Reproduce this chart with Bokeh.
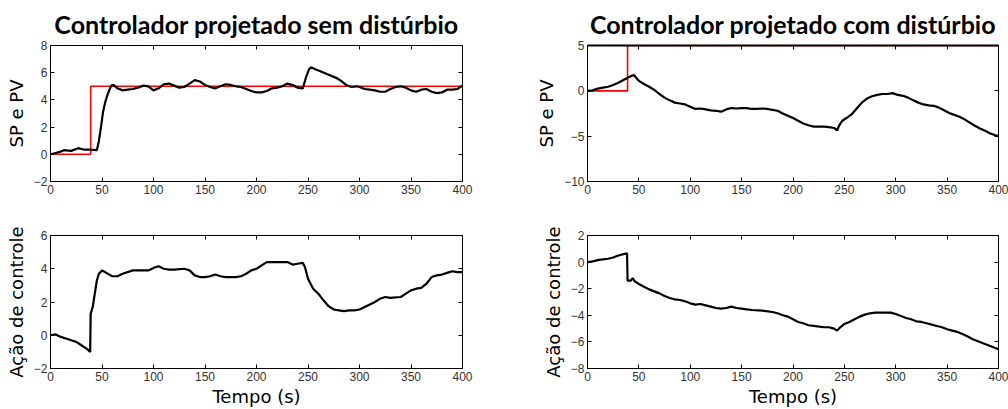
from bokeh.plotting import figure
from bokeh.layouts import column, row
from bokeh.models import Range1d, LinearAxis, FixedTicker
from bokeh.embed import file_html
from bokeh.resources import INLINE

# ---- data ---------------------------------------------------------------
# Set-point step (both experiments)
sp_t = [0, 39, 39, 400]
sp_v = [0, 0, 5, 5]

# Process variable, no disturbance
pv1_t = [0, 5, 10, 13, 20, 27, 32, 37, 45, 47, 49, 51, 53, 55, 57, 59, 61, 65, 70,
         75, 80, 85, 90, 95, 100, 105, 110, 115, 120, 125, 130, 135, 140, 145, 150,
         155, 160, 165, 170, 175, 180, 185, 190, 195, 200, 205, 210, 215, 220, 225,
         230, 235, 240, 245, 248, 251, 253, 257, 262, 270, 278, 283, 287, 292, 297,
         300, 305, 310, 315, 320, 325, 330, 335, 340, 345, 350, 355, 360, 365, 370,
         375, 380, 385, 390, 395, 400]
pv1_v = [0.0, 0.1, 0.2, 0.3, 0.25, 0.45, 0.35, 0.35, 0.3, 1.0, 2.0, 3.1, 3.8, 4.3, 4.7,
         5.05, 5.1, 4.85, 4.7, 4.75, 4.8, 4.9, 5.05, 5.0, 4.7, 4.85, 5.15, 5.2, 5.05,
         4.9, 4.95, 5.2, 5.45, 5.35, 5.1, 4.95, 4.85, 5.0, 5.15, 5.1, 5.0, 4.95, 4.8,
         4.65, 4.55, 4.55, 4.65, 4.85, 4.9, 5.0, 5.2, 5.1, 4.9, 4.85, 5.65, 6.25, 6.4,
         6.25, 6.1, 5.85, 5.6, 5.35, 5.1, 4.95, 5.0, 4.95, 4.8, 4.75, 4.7, 4.6, 4.6,
         4.8, 4.95, 5.0, 4.9, 4.7, 4.6, 4.75, 4.8, 4.6, 4.5, 4.55, 4.75, 4.75, 4.8, 5.05]

# Control action, no disturbance
u1_t = [0, 5, 10, 15, 20, 25, 30, 35, 38.5, 39, 41, 43, 45, 47, 50, 53, 57, 60, 65, 70,
        80, 90, 95, 100, 105, 110, 115, 120, 130, 135, 140, 145, 150, 155, 160, 165,
        170, 180, 185, 190, 195, 200, 205, 210, 220, 230, 235, 240, 245, 247, 250, 255,
        260, 265, 270, 275, 280, 285, 290, 295, 300, 305, 310, 315, 320, 325, 330, 340,
        345, 350, 355, 360, 365, 370, 375, 380, 385, 390, 395, 400]
u1_v = [0.0, 0.05, -0.1, -0.2, -0.3, -0.4, -0.6, -0.8, -1.0, 1.3, 1.7, 2.5, 3.3, 3.7,
        3.9, 3.8, 3.65, 3.55, 3.55, 3.7, 3.9, 3.9, 3.9, 4.05, 4.15, 4.0, 3.95, 3.95, 4.0,
        3.9, 3.6, 3.5, 3.5, 3.55, 3.65, 3.55, 3.5, 3.5, 3.55, 3.7, 3.9, 4.0, 4.2, 4.4,
        4.4, 4.4, 4.25, 4.3, 4.35, 4.1, 3.4, 2.8, 2.5, 2.1, 1.75, 1.55, 1.5, 1.45, 1.5,
        1.5, 1.55, 1.7, 1.85, 2.0, 2.2, 2.3, 2.25, 2.3, 2.5, 2.7, 2.8, 2.85, 3.1, 3.5,
        3.6, 3.65, 3.75, 3.85, 3.8, 3.8]

# Process variable, with disturbance
pv2_t = [0, 5, 10, 15, 20, 25, 30, 35, 40, 43, 45, 47, 50, 55, 60, 65, 70, 75, 80, 85,
         90, 95, 100, 105, 110, 115, 120, 125, 130, 135, 140, 145, 150, 155, 160, 165,
         170, 175, 180, 185, 190, 195, 200, 205, 210, 215, 220, 225, 230, 235, 240, 243,
         245, 248, 252, 257, 262, 267, 272, 277, 282, 287, 292, 297, 302, 307, 312, 317,
         322, 327, 332, 337, 342, 347, 352, 357, 362, 367, 372, 377, 382, 387, 392, 397,
         400]
pv2_v = [0.0, 0.05, 0.25, 0.35, 0.45, 0.65, 0.9, 1.2, 1.5, 1.65, 1.75, 1.5, 1.1, 0.75,
         0.45, 0.1, -0.35, -0.75, -1.05, -1.3, -1.4, -1.5, -1.75, -2.0, -1.95, -2.05,
         -2.15, -2.2, -2.3, -2.05, -1.9, -1.95, -1.9, -1.9, -2.0, -2.0, -1.95, -2.0,
         -2.1, -2.2, -2.5, -2.75, -3.0, -3.3, -3.6, -3.8, -3.95, -3.95, -3.95, -4.0,
         -4.1, -4.35, -3.8, -3.3, -3.0, -2.6, -1.95, -1.3, -0.85, -0.6, -0.45, -0.35,
         -0.35, -0.25, -0.45, -0.55, -0.75, -1.05, -1.3, -1.5, -1.6, -1.65, -1.85,
         -2.15, -2.45, -2.65, -2.85, -3.15, -3.5, -3.85, -4.15, -4.4, -4.7, -4.9, -5.0]

# Control action, with disturbance
u2_t = [0, 5, 10, 15, 20, 25, 30, 35, 38.5, 39, 42, 44, 46, 50, 55, 60, 65, 70, 75, 80,
        85, 90, 95, 100, 105, 110, 115, 120, 125, 130, 135, 140, 145, 150, 155, 160,
        170, 180, 185, 190, 195, 200, 205, 210, 215, 220, 230, 235, 240, 243, 246, 250,
        255, 260, 265, 270, 275, 280, 290, 295, 300, 305, 310, 315, 320, 325, 330, 335,
        340, 345, 350, 355, 360, 365, 370, 375, 380, 385, 390, 395, 400]
u2_v = [0.0, 0.05, 0.15, 0.2, 0.25, 0.35, 0.5, 0.6, 0.65, -1.4, -1.4, -1.2, -1.45,
        -1.65, -1.85, -2.05, -2.2, -2.35, -2.55, -2.7, -2.8, -2.85, -2.95, -3.1, -3.2,
        -3.15, -3.25, -3.35, -3.45, -3.5, -3.45, -3.35, -3.45, -3.5, -3.55, -3.6, -3.65,
        -3.75, -3.85, -4.0, -4.1, -4.3, -4.5, -4.6, -4.75, -4.8, -4.9, -4.9, -5.0,
        -5.15, -4.9, -4.65, -4.5, -4.3, -4.1, -3.95, -3.85, -3.8, -3.8, -3.8, -3.9,
        -4.05, -4.2, -4.3, -4.45, -4.5, -4.6, -4.7, -4.8, -4.9, -5.05, -5.15, -5.25,
        -5.4, -5.6, -5.8, -5.95, -6.1, -6.25, -6.4, -6.55]

x_ticks = [0, 50, 100, 150, 200, 250, 300, 350, 400]
y_ticks_pv1 = [-2, 0, 2, 4, 6, 8]
y_ticks_u1 = [-2, 0, 2, 4, 6]
y_ticks_pv2 = [-10, -5, 0, 5]
y_ticks_u2 = [-8, -6, -4, -2, 0, 2]

TICK_FONT = "Liberation Sans"
LABEL_FONT = "DejaVu Sans"


def style_axis(ax, ticks, show_labels=True):
    ax.ticker = FixedTicker(ticks=ticks)
    ax.minor_tick_line_color = None
    ax.major_tick_in = 4
    ax.major_tick_out = 0
    ax.major_tick_line_color = "black"
    ax.axis_line_color = "black"
    ax.major_label_text_font = TICK_FONT
    ax.major_label_text_font_size = "12px"
    ax.major_label_standoff = 3
    if show_labels:
        ax.major_label_text_color = "#333333"
    else:
        # tick marks only on the mirrored sides
        ax.major_label_text_color = None
        ax.major_label_standoff = 0


def panel(w, h, borders, yr, yticks, ylabel, xlabel=None, title=None, top_line=1):
    left, right, top, bottom = borders
    p = figure(width=w, height=h, x_range=Range1d(0, 400), y_range=Range1d(*yr),
               output_backend="svg", toolbar_location=None,
               min_border_left=left, min_border_right=right,
               min_border_top=top, min_border_bottom=bottom)
    p.grid.visible = False
    p.outline_line_color = "black"
    p.outline_line_width = 1
    style_axis(p.xaxis[0], x_ticks)
    style_axis(p.yaxis[0], yticks)
    p.yaxis[0].axis_label = ylabel
    p.yaxis[0].axis_label_text_font = LABEL_FONT
    p.yaxis[0].axis_label_text_font_size = "18px"
    p.yaxis[0].axis_label_text_font_style = "normal"
    p.yaxis[0].axis_label_text_color = "black"
    p.yaxis[0].axis_label_standoff = 4
    if xlabel:
        p.xaxis[0].axis_label = xlabel
        p.xaxis[0].axis_label_text_font = LABEL_FONT
        p.xaxis[0].axis_label_text_font_size = "18px"
        p.xaxis[0].axis_label_text_font_style = "normal"
        p.xaxis[0].axis_label_text_color = "black"
        p.xaxis[0].axis_label_standoff = 2
    top_ax = LinearAxis()
    style_axis(top_ax, x_ticks, show_labels=False)
    top_ax.axis_line_width = top_line
    p.add_layout(top_ax, "above")
    right_ax = LinearAxis()
    style_axis(right_ax, yticks, show_labels=False)
    p.add_layout(right_ax, "right")
    if title:
        p.title.text = title
        p.title.align = "center"
        p.title.text_font = "Lato"
        p.title.text_font_style = "bold"
        p.title.text_font_size = "25px"
        p.title.text_color = "black"
        p.title.standoff = 13
    p.background_fill_color = "white"
    p.border_fill_color = "white"
    return p


p1 = panel(504, 208, (50, 42, 45, 27), (-2, 8), y_ticks_pv1, "SP e PV",
           title="Controlador projetado sem distúrbio")
p1.line(sp_t, sp_v, line_color="red", line_width=1.6)
p1.line(pv1_t, pv1_v, line_color="black", line_width=2.2)

# SP sits on the upper frame edge here; a heavier top axis line keeps the box black
p2 = panel(504, 208, (83, 10, 45, 27), (-10, 5), y_ticks_pv2, "SP e PV",
           title="Controlador projetado com distúrbio", top_line=2)
p2.line(sp_t, sp_v, line_color="red", line_width=1.6)
p2.line(pv2_t, pv2_v, line_color="black", line_width=2.2)

p3 = panel(504, 201, (50, 42, 27, 40), (-2, 6), y_ticks_u1, "Ação de controle",
           xlabel="Tempo (s)")
p3.line(u1_t, u1_v, line_color="black", line_width=2.2)

p4 = panel(504, 201, (83, 10, 27, 40), (-8, 2), y_ticks_u2, "Ação de controle",
           xlabel="Tempo (s)")
p4.line(u2_t, u2_v, line_color="black", line_width=2.2)

layout = column(row(p1, p2), row(p3, p4))
open("out.html", "w").write(file_html(layout, INLINE))
